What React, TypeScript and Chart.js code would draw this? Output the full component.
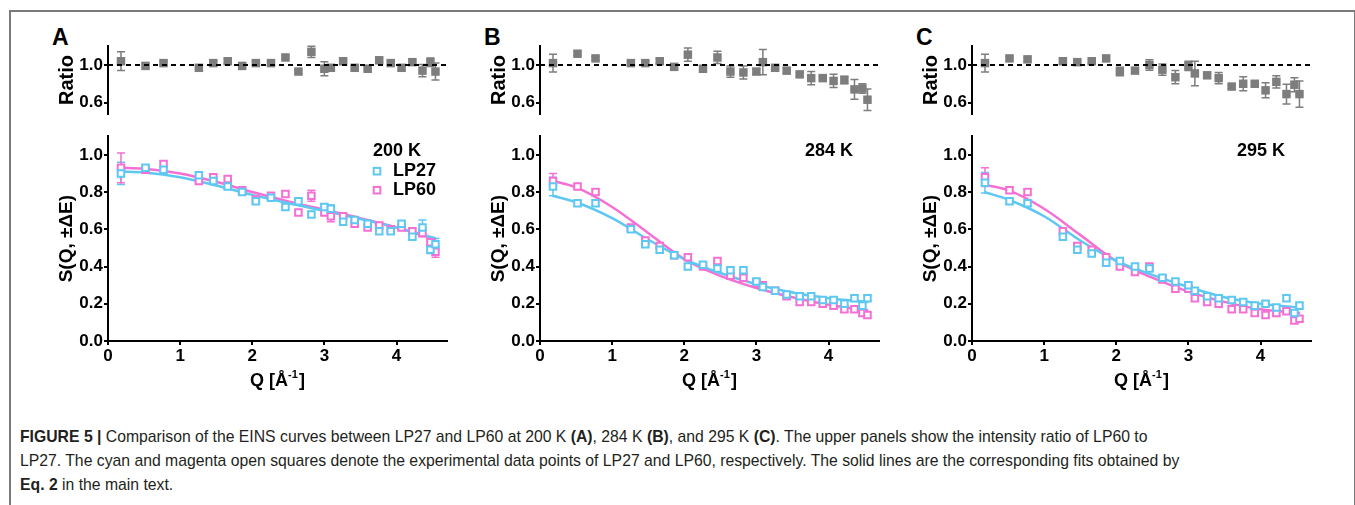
import React, { useEffect, useRef } from 'react';
import { Chart, registerables } from 'chart.js';

Chart.register(...registerables);

const FONT = "'Liberation Sans', Arial, Helvetica, sans-serif";
const CYAN = '#5ec8f2';
const MAGENTA = '#f570d4';
const GRAY = '#7d7d7d';

// ---- shared momentum-transfer values (Å^-1) ----
const Q = [0.18, 0.52, 0.77, 1.26, 1.46, 1.66, 1.86, 2.05, 2.26, 2.46, 2.64, 2.82, 3.0, 3.09, 3.26, 3.42, 3.6, 3.76, 3.92, 4.07, 4.22, 4.36, 4.47, 4.54];
const FIT_Q = [0.17, 0.5, 1.0, 1.5, 2.0, 2.5, 3.0, 3.5, 4.0, 4.55];
const Q_MIN = 0;
const Q_MAX = 4.7;
const Q_TICKS = [0, 1, 2, 3, 4];
const S_TICKS = [0, 0.2, 0.4, 0.6, 0.8, 1.0];
const S_MAX = 1.1;
const RATIO_TICKS = [0.6, 0.8, 1.0, 1.2];
const RATIO_LABELED = [0.6, 1.0];
const RATIO_MIN = 0.48;
const RATIO_MAX = 1.2;
const RATIO_REF = 1.0;

// ---- 200 K ----
const LP27_200K = [0.90, 0.93, 0.92, 0.89, 0.86, 0.83, 0.80, 0.75, 0.77, 0.72, 0.75, 0.68, 0.72, 0.71, 0.64, 0.65, 0.63, 0.59, 0.59, 0.63, 0.56, 0.61, 0.49, 0.52];
const LP27_200K_ERR = [0.06, 0.015, 0.015, 0.015, 0.015, 0.015, 0.015, 0.015, 0.015, 0.015, 0.015, 0.015, 0.015, 0.02, 0.015, 0.015, 0.015, 0.015, 0.015, 0.015, 0.015, 0.04, 0.02, 0.03];
const LP60_200K = [0.93, 0.92, 0.95, 0.86, 0.88, 0.87, 0.81, 0.76, 0.78, 0.79, 0.69, 0.78, 0.69, 0.67, 0.67, 0.63, 0.61, 0.62, 0.60, 0.61, 0.59, 0.58, 0.53, 0.48];
const LP60_200K_ERR = [0.08, 0.015, 0.015, 0.015, 0.015, 0.015, 0.015, 0.015, 0.015, 0.015, 0.015, 0.03, 0.015, 0.03, 0.015, 0.015, 0.015, 0.015, 0.015, 0.015, 0.015, 0.02, 0.02, 0.03];
const FIT27_200K = [0.91, 0.905, 0.88, 0.835, 0.785, 0.74, 0.70, 0.655, 0.61, 0.55];
const FIT60_200K = [0.93, 0.925, 0.90, 0.855, 0.80, 0.75, 0.705, 0.66, 0.61, 0.545];
const RATIO_200K = [1.04, 0.99, 1.02, 0.97, 1.02, 1.04, 0.99, 1.02, 1.02, 1.08, 0.93, 1.14, 0.96, 0.97, 1.04, 0.97, 0.96, 1.05, 1.02, 0.97, 1.03, 0.94, 1.03, 0.93];
const RATIO_200K_ERR = [0.10, 0.02, 0.02, 0.02, 0.02, 0.02, 0.02, 0.02, 0.02, 0.02, 0.02, 0.06, 0.075, 0.02, 0.02, 0.02, 0.02, 0.02, 0.02, 0.02, 0.02, 0.065, 0.045, 0.09];

// ---- 284 K ----
const LP27_284K = [0.83, 0.74, 0.74, 0.60, 0.52, 0.49, 0.46, 0.40, 0.41, 0.39, 0.38, 0.38, 0.32, 0.29, 0.27, 0.25, 0.24, 0.24, 0.22, 0.22, 0.20, 0.23, 0.19, 0.23];
const LP27_284K_ERR = [0.05, 0.015, 0.015, 0.015, 0.015, 0.015, 0.015, 0.015, 0.015, 0.015, 0.015, 0.015, 0.015, 0.015, 0.015, 0.015, 0.015, 0.015, 0.015, 0.015, 0.015, 0.015, 0.015, 0.015];
const LP60_284K = [0.86, 0.83, 0.80, 0.61, 0.54, 0.51, 0.46, 0.45, 0.40, 0.43, 0.35, 0.34, 0.31, 0.30, 0.27, 0.24, 0.21, 0.21, 0.20, 0.19, 0.17, 0.17, 0.15, 0.14];
const LP60_284K_ERR = [0.04, 0.015, 0.015, 0.015, 0.015, 0.015, 0.015, 0.015, 0.015, 0.015, 0.015, 0.015, 0.015, 0.015, 0.015, 0.015, 0.015, 0.015, 0.015, 0.015, 0.015, 0.015, 0.015, 0.015];
const FIT27_284K = [0.78, 0.745, 0.66, 0.545, 0.44, 0.365, 0.305, 0.26, 0.23, 0.21];
const FIT60_284K = [0.86, 0.825, 0.72, 0.58, 0.44, 0.35, 0.285, 0.235, 0.195, 0.165];
const RATIO_284K = [1.02, 1.12, 1.07, 1.02, 1.02, 1.04, 0.98, 1.11, 0.96, 1.08, 0.93, 0.92, 0.93, 1.03, 0.97, 0.94, 0.90, 0.86, 0.86, 0.83, 0.84, 0.74, 0.75, 0.63];
const RATIO_284K_ERR = [0.095, 0.02, 0.02, 0.02, 0.02, 0.02, 0.02, 0.07, 0.02, 0.065, 0.06, 0.07, 0.03, 0.135, 0.02, 0.03, 0.02, 0.07, 0.02, 0.07, 0.04, 0.105, 0.05, 0.115];

// ---- 295 K ----
const LP27_295K = [0.85, 0.75, 0.74, 0.56, 0.49, 0.47, 0.42, 0.43, 0.40, 0.39, 0.34, 0.32, 0.30, 0.27, 0.24, 0.23, 0.22, 0.21, 0.19, 0.20, 0.18, 0.23, 0.15, 0.19];
const LP27_295K_ERR = [0.055, 0.015, 0.015, 0.015, 0.015, 0.015, 0.015, 0.015, 0.015, 0.015, 0.015, 0.015, 0.015, 0.015, 0.015, 0.015, 0.015, 0.015, 0.015, 0.015, 0.015, 0.015, 0.015, 0.015];
const LP60_295K = [0.88, 0.81, 0.80, 0.59, 0.51, 0.49, 0.45, 0.40, 0.37, 0.40, 0.33, 0.28, 0.28, 0.23, 0.21, 0.20, 0.17, 0.17, 0.15, 0.14, 0.15, 0.16, 0.11, 0.12];
const LP60_295K_ERR = [0.05, 0.015, 0.015, 0.015, 0.015, 0.015, 0.015, 0.015, 0.015, 0.015, 0.015, 0.015, 0.015, 0.015, 0.015, 0.015, 0.015, 0.015, 0.015, 0.015, 0.015, 0.015, 0.015, 0.015];
const FIT27_295K = [0.80, 0.76, 0.67, 0.54, 0.43, 0.355, 0.29, 0.235, 0.20, 0.18];
const FIT60_295K = [0.84, 0.81, 0.71, 0.57, 0.43, 0.34, 0.265, 0.21, 0.17, 0.15];
const RATIO_295K = [1.02, 1.07, 1.06, 1.04, 1.03, 1.04, 1.07, 0.93, 0.94, 1.00, 0.95, 0.87, 0.99, 0.91, 0.89, 0.86, 0.77, 0.80, 0.80, 0.73, 0.82, 0.69, 0.79, 0.69];
const RATIO_295K_ERR = [0.095, 0.02, 0.02, 0.02, 0.02, 0.02, 0.02, 0.045, 0.02, 0.055, 0.06, 0.07, 0.05, 0.13, 0.02, 0.06, 0.02, 0.075, 0.02, 0.08, 0.065, 0.105, 0.075, 0.14];

const SERIES_NAMES = ['LP27', 'LP60'];

const PANELS = [
  { letter: 'A', temp: '200 K', lp27: LP27_200K, lp27Err: LP27_200K_ERR, lp60: LP60_200K, lp60Err: LP60_200K_ERR, fit27: FIT27_200K, fit60: FIT60_200K, ratio: RATIO_200K, ratioErr: RATIO_200K_ERR, legend: true },
  { letter: 'B', temp: '284 K', lp27: LP27_284K, lp27Err: LP27_284K_ERR, lp60: LP60_284K, lp60Err: LP60_284K_ERR, fit27: FIT27_284K, fit60: FIT60_284K, ratio: RATIO_284K, ratioErr: RATIO_284K_ERR, legend: false },
  { letter: 'C', temp: '295 K', lp27: LP27_295K, lp27Err: LP27_295K_ERR, lp60: LP60_295K, lp60Err: LP60_295K_ERR, fit27: FIT27_295K, fit60: FIT60_295K, ratio: RATIO_295K, ratioErr: RATIO_295K_ERR, legend: false },
];

// ---- layout ----
const PANEL_DX = 432;
const CANVAS_LEFT = 55;
const CANVAS_W = 400;
const Y_AXIS_W = 53;
const RATIO_TOP = 35;
const RATIO_H = 90;
const MAIN_TOP = 125;
const MAIN_H = 275;
const X_AXIS_H = 59;

const pts = (xs: number[], ys: number[]) => xs.map((x, i) => ({ x, y: ys[i] }));

const errorBarPlugin = {
  id: 'errorBars',
  beforeDatasetsDraw(chart: any) {
    const { ctx } = chart;
    const xs = chart.scales.x;
    const ys = chart.scales.y;
    chart.data.datasets.forEach((ds: any) => {
      if (!ds.errors) return;
      ctx.save();
      ctx.strokeStyle = ds.errorColor;
      ctx.lineWidth = 1.5;
      ds.data.forEach((p: any, j: number) => {
        const e = ds.errors[j];
        if (!e) return;
        const x = xs.getPixelForValue(p.x);
        const y1 = ys.getPixelForValue(p.y - e);
        const y2 = ys.getPixelForValue(p.y + e);
        ctx.beginPath();
        ctx.moveTo(x, y1);
        ctx.lineTo(x, y2);
        ctx.moveTo(x - 4, y1);
        ctx.lineTo(x + 4, y1);
        ctx.moveTo(x - 4, y2);
        ctx.lineTo(x + 4, y2);
        ctx.stroke();
      });
      ctx.restore();
    });
  },
};

const xTitlePlugin = {
  id: 'xTitle',
  afterDraw(chart: any) {
    const { ctx, chartArea } = chart;
    const big = `bold 18px ${FONT}`;
    const small = `bold 11px ${FONT}`;
    ctx.save();
    ctx.fillStyle = '#000';
    ctx.textBaseline = 'alphabetic';
    ctx.textAlign = 'left';
    ctx.font = big;
    const w1 = ctx.measureText('Q [Å').width;
    const w3 = ctx.measureText(']').width;
    ctx.font = small;
    const w2 = ctx.measureText('-1').width;
    const total = w1 + w2 + w3 + 1;
    let x = (chartArea.left + chartArea.right) / 2 - total / 2;
    const y = chartArea.bottom + 45;
    ctx.font = big;
    ctx.fillText('Q [Å', x, y);
    x += w1;
    ctx.font = small;
    ctx.fillText('-1', x, y - 8);
    x += w2 + 1;
    ctx.font = big;
    ctx.fillText(']', x, y);
    ctx.restore();
  },
};

const makeLabelPlugin = (temp: string, legend: boolean) => ({
  id: 'labels',
  afterDraw(chart: any) {
    const { ctx, chartArea } = chart;
    ctx.save();
    ctx.fillStyle = '#000';
    ctx.font = `bold 18px ${FONT}`;
    ctx.textBaseline = 'middle';
    ctx.textAlign = 'right';
    ctx.fillText(temp, chartArea.right - 26, chartArea.top + 15);
    if (legend) {
      [CYAN, MAGENTA].forEach((c, i) => {
        const y = chartArea.top + 35 + i * 19;
        const x = chartArea.right - 70;
        ctx.strokeStyle = c;
        ctx.lineWidth = 2;
        ctx.fillStyle = '#fff';
        ctx.fillRect(x - 3.3, y - 3.3, 6.6, 6.6);
        ctx.strokeRect(x - 3.3, y - 3.3, 6.6, 6.6);
        ctx.fillStyle = '#000';
        ctx.textAlign = 'left';
        ctx.fillText(SERIES_NAMES[i], chartArea.right - 54, y);
      });
    }
    ctx.restore();
  },
});

const tickFont = { family: FONT, size: 17, weight: 'bold' as const };
const axisBase = () => ({
  border: { display: true, color: '#000', width: 2 },
  grid: { drawOnChartArea: false, drawTicks: true, tickLength: 4, color: '#000', lineWidth: 2 },
});

function mainConfig(p: any): any {
  return {
    type: 'scatter',
    data: {
      datasets: [
        { label: SERIES_NAMES[0], data: pts(Q, p.lp27), errors: p.lp27Err, errorColor: CYAN, pointStyle: 'rect', pointRadius: 4.6, borderColor: CYAN, backgroundColor: '#fff', borderWidth: 2, showLine: false, clip: false },
        { label: SERIES_NAMES[1], data: pts(Q, p.lp60), errors: p.lp60Err, errorColor: MAGENTA, pointStyle: 'rect', pointRadius: 4.6, borderColor: MAGENTA, backgroundColor: '#fff', borderWidth: 2, showLine: false, clip: false },
        { label: 'fit27', data: pts(FIT_Q, p.fit27), showLine: true, borderColor: CYAN, borderWidth: 2.5, pointRadius: 0, cubicInterpolationMode: 'monotone', fill: false },
        { label: 'fit60', data: pts(FIT_Q, p.fit60), showLine: true, borderColor: MAGENTA, borderWidth: 2.5, pointRadius: 0, cubicInterpolationMode: 'monotone', fill: false },
      ],
    },
    options: {
      animation: false,
      responsive: false,
      events: [],
      layout: { padding: { top: 8, right: 8, bottom: 0, left: 0 } },
      plugins: { legend: { display: false }, tooltip: { enabled: false } },
      scales: {
        x: {
          type: 'linear', min: Q_MIN, max: Q_MAX, ...axisBase(),
          afterBuildTicks: (s: any) => { s.ticks = Q_TICKS.map((v) => ({ value: v })); },
          afterFit: (s: any) => { s.height = X_AXIS_H; },
          ticks: { color: '#000', font: tickFont, padding: 1, maxRotation: 0, callback: (v: any) => String(v) },
        },
        y: {
          type: 'linear', min: 0, max: S_MAX, ...axisBase(),
          afterBuildTicks: (s: any) => { s.ticks = S_TICKS.map((v) => ({ value: v })); },
          afterFit: (s: any) => { s.width = Y_AXIS_W; },
          ticks: { color: '#000', font: tickFont, padding: 1, callback: (v: any) => Number(v).toFixed(1) },
          title: { display: true, text: 'S(Q, ±ΔE)', color: '#000', font: { family: FONT, size: 19, weight: 'bold' }, padding: 0 },
        },
      },
    },
    plugins: [errorBarPlugin, xTitlePlugin, makeLabelPlugin(p.temp, p.legend)],
  };
}

function ratioConfig(p: any): any {
  return {
    type: 'scatter',
    data: {
      datasets: [
        { label: 'ref', data: [{ x: Q_MIN, y: RATIO_REF }, { x: Q_MAX, y: RATIO_REF }], showLine: true, borderColor: '#000', borderWidth: 2, borderDash: [5, 4], pointRadius: 0, fill: false },
        { label: 'ratio', data: pts(Q, p.ratio), errors: p.ratioErr, errorColor: GRAY, pointStyle: 'rect', pointRadius: 6, backgroundColor: GRAY, borderColor: GRAY, borderWidth: 0, showLine: false, clip: false },
      ],
    },
    options: {
      animation: false,
      responsive: false,
      events: [],
      layout: { padding: { top: 10, right: 8, bottom: 8, left: 0 } },
      plugins: { legend: { display: false }, tooltip: { enabled: false } },
      scales: {
        x: { type: 'linear', min: Q_MIN, max: Q_MAX, display: false },
        y: {
          type: 'linear', min: RATIO_MIN, max: RATIO_MAX, ...axisBase(),
          afterBuildTicks: (s: any) => { s.ticks = RATIO_TICKS.map((v) => ({ value: v })); },
          afterFit: (s: any) => { s.width = Y_AXIS_W; },
          ticks: { color: '#000', font: tickFont, padding: 1, callback: (v: any) => (RATIO_LABELED.includes(v) ? Number(v).toFixed(1) : '') },
          title: { display: true, text: 'Ratio', color: '#000', font: { family: FONT, size: 20, weight: 'bold' }, padding: 0 },
        },
      },
    },
    plugins: [errorBarPlugin],
  };
}

export default function App() {
  const ratioRefs = useRef<(HTMLCanvasElement | null)[]>([]);
  const mainRefs = useRef<(HTMLCanvasElement | null)[]>([]);

  useEffect(() => {
    const charts: Chart[] = [];
    PANELS.forEach((p, i) => {
      const rc = ratioRefs.current[i];
      const mc = mainRefs.current[i];
      if (rc) charts.push(new Chart(rc, ratioConfig(p)));
      if (mc) charts.push(new Chart(mc, mainConfig(p)));
    });
    return () => charts.forEach((c) => c.destroy());
  }, []);

  return (
    <div style={{ position: 'absolute', left: 0, top: 0, width: 1355, height: 505, overflow: 'hidden', background: '#fff' }}>
      <div style={{ position: 'absolute', left: 9, top: 10, width: 1343, height: 600, border: '2px solid #7a7a7a' }} />
      {PANELS.map((p, i) => (
        <React.Fragment key={p.letter}>
          <div style={{ position: 'absolute', left: 52 + i * PANEL_DX, top: 24, fontFamily: FONT, fontWeight: 'bold', fontSize: 23, lineHeight: '26px', color: '#000' }}>{p.letter}</div>
          <canvas
            ref={(el) => { ratioRefs.current[i] = el; }}
            width={CANVAS_W}
            height={RATIO_H}
            style={{ position: 'absolute', left: CANVAS_LEFT + i * PANEL_DX, top: RATIO_TOP, width: CANVAS_W, height: RATIO_H }}
          />
          <canvas
            ref={(el) => { mainRefs.current[i] = el; }}
            width={CANVAS_W}
            height={MAIN_H}
            style={{ position: 'absolute', left: CANVAS_LEFT + i * PANEL_DX, top: MAIN_TOP, width: CANVAS_W, height: MAIN_H }}
          />
        </React.Fragment>
      ))}
      <div style={{ position: 'absolute', left: 20, top: 425, fontFamily: FONT, fontSize: 15.75, lineHeight: '24px', color: '#231f20', whiteSpace: 'nowrap' }}>
        <div><b>FIGURE 5 |</b> Comparison of the EINS curves between LP27 and LP60 at 200 K <b>(A)</b>, 284 K <b>(B)</b>, and 295 K <b>(C)</b>. The upper panels show the intensity ratio of LP60 to</div>
        <div>LP27. The cyan and magenta open squares denote the experimental data points of LP27 and LP60, respectively. The solid lines are the corresponding fits obtained by</div>
        <div><b>Eq. 2</b> in the main text.</div>
      </div>
    </div>
  );
}
